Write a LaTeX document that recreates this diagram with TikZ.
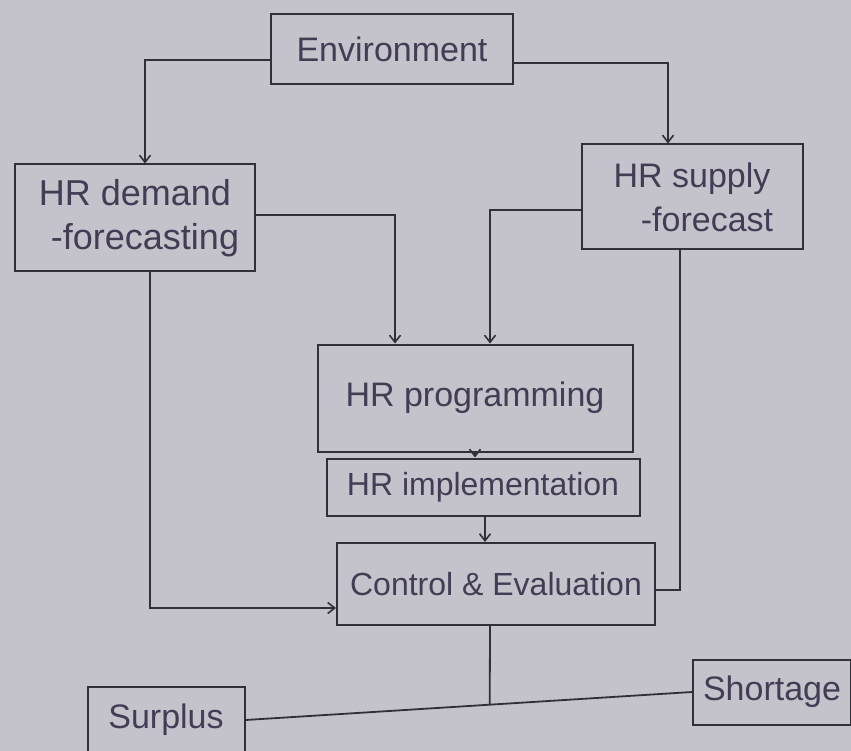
\documentclass[tikz,border=0pt]{standalone}
\usepackage{fontspec}
\setmainfont{Liberation Sans}
\usetikzlibrary{arrows.meta,calc}
\definecolor{paper}{RGB}{196,195,203}
\definecolor{pencil}{RGB}{48,48,56}
\definecolor{ink}{RGB}{68,60,84}
\tikzset{
  box/.style={draw=pencil, line width=2pt, rectangle, inner sep=0pt,
              text=ink, align=center, font=\fontsize{34}{42}\selectfont},
  link/.style={draw=pencil, line width=1.8pt},
  arr/.style={link, -{Straight Barb[length=7pt,width=11pt,line width=1.6pt]}},
}
\begin{document}
\begin{tikzpicture}[x=1pt,y=-1pt]
  % page
  \fill[paper] (0,0) rectangle (851,751);
  \useasboundingbox (0,0) rectangle (851,751);

  % boxes
  \node[box, minimum width=242, minimum height=70] (env) at (392,49) {Environment};
  \node[box, minimum width=240, minimum height=107,
        font=\fontsize{36}{46}\selectfont] (dem) at (135,218) {HR demand\\[-2pt]\hspace*{20pt}-forecasting};
  \node[box, minimum width=221, minimum height=105,
        font=\fontsize{34}{44}\selectfont] (sup) at (692,197) {HR supply\\\hspace*{30pt}-forecast};
  \node[box, minimum width=315, minimum height=107] (prog) at (475,398) {HR programming};
  \node[box, minimum width=313, minimum height=57,
        font=\fontsize{32}{40}\selectfont] (impl) at (483,487) {HR implementation};
  \node[box, minimum width=318, minimum height=82,
        font=\fontsize{32}{40}\selectfont] (ctrl) at (496,584) {Control \& Evaluation};
  \node[box, minimum width=157, minimum height=66] (surp) at (166,720) {Surplus};
  \node[box, minimum width=158, minimum height=65] (short) at (772,692) {Shortage};

  % environment feeds both forecasts
  \draw[arr] ([yshift=-11pt]env.west) -| ([xshift=10pt]dem.north);
  \draw[arr] ([yshift=-14pt]env.east) -| ([xshift=-24pt]sup.north);

  % forecasts feed programming
  \draw[arr] ([yshift=3pt]dem.east) -| ([xshift=-80pt]prog.north);
  \draw[arr] ([yshift=-13pt]sup.west) -| ([xshift=15pt]prog.north);

  % main chain
  \draw[arr] (prog.south) -- (prog.south |- impl.north);
  \draw[arr] ([xshift=2pt]impl.south) -- ([xshift=2pt]impl.south |- ctrl.north);

  % feedback into control
  \draw[arr] ([xshift=15pt]dem.south) |- ([yshift=-24pt]ctrl.west);
  \draw[link] ([xshift=-12pt]sup.south) |- ([yshift=-6pt]ctrl.east);

  % outcomes
  \coordinate (j) at ($(surp.east)!0.547!(short.west)$);
  \draw[link] (surp.east) -- (short.west);
  \draw[link] ([xshift=-6pt]ctrl.south) -- (j);
\end{tikzpicture}
\end{document}
